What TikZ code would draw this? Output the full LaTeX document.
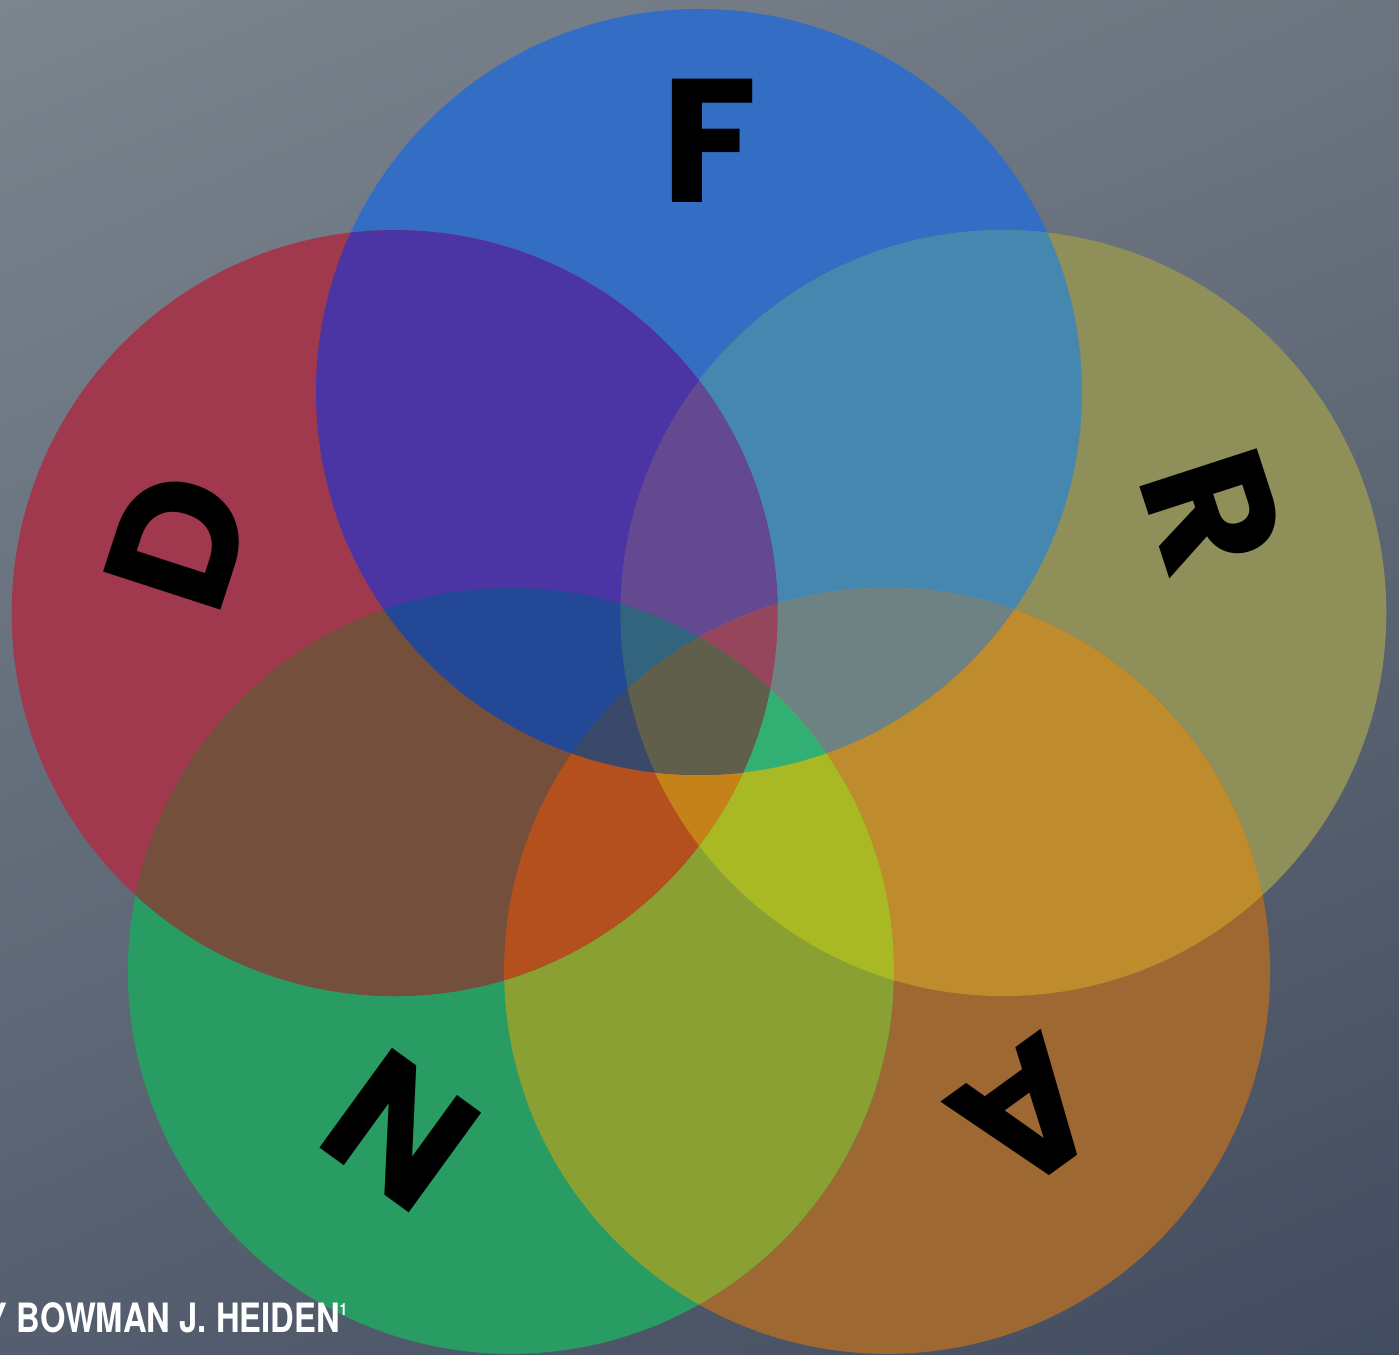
\documentclass[tikz,border=0pt]{standalone}
\usepackage{fontspec}
\newfontfamily\letterfont{Poppins}
\newfontfamily\creditfont{TeX Gyre Heros}[FakeStretch=0.81]
\usepackage{xcolor}
\usetikzlibrary{shadings}

\definecolor{bgTL}{RGB}{124,133,142}
\definecolor{bgTR}{RGB}{108,117,127}
\definecolor{bgBL}{RGB}{84,94,110}
\definecolor{bgBR}{RGB}{66,76,95}

\def\vrad{3.83}
% fill the part shared by the listed circles
\newcommand\vpatch[2]{%
  \definecolor{vtmp}{RGB}{#2}%
  \begin{scope}
    \foreach \c in {#1} {\clip (\c) circle (\vrad);}
    \fill[vtmp] (0,0) rectangle (13.99,13.55);
  \end{scope}}

\begin{document}
\begin{tikzpicture}[letter/.style={font=\letterfont\bfseries\fontsize{50}{50}\selectfont,inner sep=0pt}]
\useasboundingbox (0,0) rectangle (13.99,13.55);
\shade[upper left=bgTL,upper right=bgTR,lower left=bgBL,lower right=bgBR] (0,0) rectangle (13.99,13.55);

\begin{scope}[shift={(6.99,6.43)}]
\coordinate (F) at (90:3.2);
\coordinate (R) at (18:3.2);
\coordinate (A) at (-54:3.2);
\coordinate (N) at (-126:3.2);
\coordinate (D) at (162:3.2);
\end{scope}

% one circle
\vpatch{F}{52,110,196}
\vpatch{R}{143,143,90}
\vpatch{A}{158,104,50}
\vpatch{N}{40,156,98}
\vpatch{D}{160,57,77}
% two
\vpatch{F,R}{70,135,175}
\vpatch{R,A}{190,140,45}
\vpatch{A,N}{138,160,50}
\vpatch{N,D}{116,80,60}
\vpatch{D,F}{75,52,163}
% three
\vpatch{D,F,R}{100,73,145}
\vpatch{F,R,A}{110,130,132}
\vpatch{R,A,N}{168,185,36}
\vpatch{A,N,D}{180,80,30}
\vpatch{N,D,F}{35,72,150}
% four
\vpatch{D,F,R,N}{50,100,125}
\vpatch{D,F,R,A}{150,70,92}
\vpatch{F,R,A,N}{50,175,115}
\vpatch{D,R,A,N}{196,130,25}
\vpatch{D,F,N,A}{58,72,105}
% all five
\vpatch{F,R,A,N,D}{95,95,75}

\node[letter] (lF) at (7.10,12.14) {F};
\node[letter,rotate=-72] (lR) at (12.13,8.43) {R};
\node[letter,rotate=-144] (lA) at (10.27,2.40) {A};
\node[letter,rotate=144] (lN) at (4.01,2.24) {N};
\node[letter,rotate=72] (lD) at (1.79,8.14) {D};

\node[anchor=base east,inner sep=0pt,text=white,font=\creditfont\bfseries\fontsize{11.5}{12}\selectfont] (credit) at (3.48,0.22) {Y BOWMAN J.\ HEIDEN\raisebox{0.17cm}{\fontsize{4.8}{5}\selectfont 1}};
\end{tikzpicture}
\end{document}
